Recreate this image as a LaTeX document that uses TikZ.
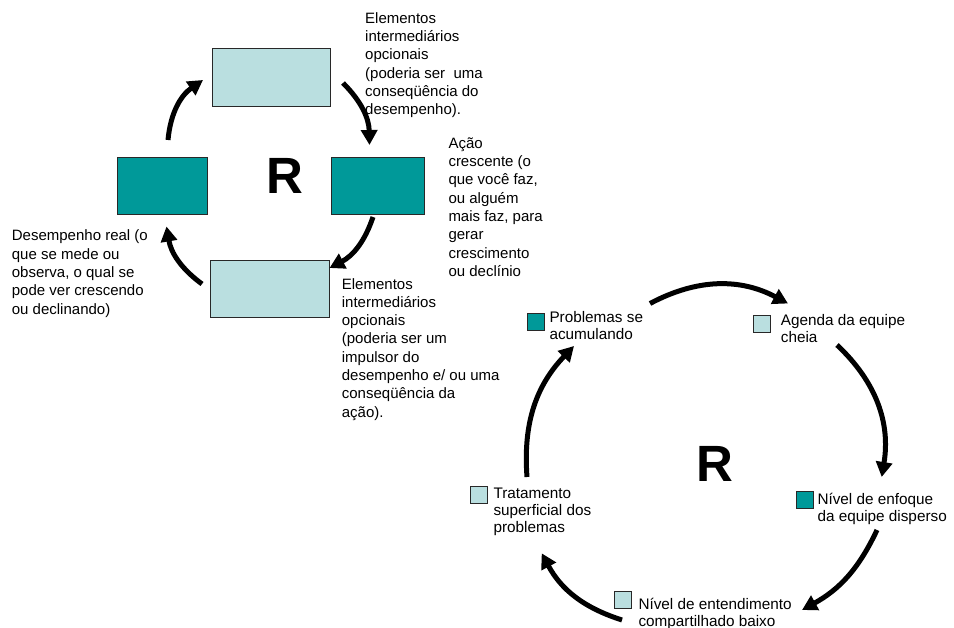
\documentclass[tikz,border=0pt]{standalone}
\usepackage{fontspec}
\setmainfont{Liberation Sans}
\usetikzlibrary{arrows.meta}
\definecolor{tealfill}{RGB}{0,153,153}
\definecolor{palefill}{RGB}{186,223,224}
\definecolor{edge}{RGB}{40,40,40}

\begin{document}
\begin{tikzpicture}[x=1pt,y=-1pt,
  box/.style={draw=edge, line width=0.8pt, inner sep=0pt},
  dark/.style={fill=tealfill},
  pale/.style={fill=palefill},
  sq/.style={box, minimum width=17pt, minimum height=17pt},
  % labels are anchored at the baseline of their last line
  lbl/.style={anchor=base west, align=left, inner sep=0pt,
              font=\fontsize{15}{18.3}\selectfont},
  lblb/.style={anchor=base west, align=left, inner sep=0pt,
               font=\fontsize{15.3}{17}\selectfont},
  bigR/.style={anchor=base, inner sep=0pt,
               font=\fontsize{51}{51}\selectfont\bfseries},
  loop/.style={line width=5pt, -{Triangle[length=15pt,width=16pt]}}
]
\useasboundingbox (0,0) rectangle (954,628);

% ---------- generic reinforcing loop ----------
\node[box, pale, minimum width=118pt, minimum height=58pt] (top) at (271,77) {};
\node[box, dark, minimum width=90pt, minimum height=57pt] (left) at (162.4,185.7) {};
\node[box, dark, minimum width=92.6pt, minimum height=56.6pt] (right) at (378,186) {};
\node[box, pale, minimum width=118.6pt, minimum height=57.3pt] (bottom) at (270,288.7) {};
\node[bigR] (R1) at (284.5,193.3) {R};

\coordinate (a1s) at (168,140);   \coordinate (a1e) at (203,80);
\coordinate (a2s) at (343,83);    \coordinate (a2e) at (369.5,145);
\coordinate (a3s) at (373,217);   \coordinate (a3e) at (329.5,268);
\coordinate (a4s) at (202,284);   \coordinate (a4e) at (166.5,226.5);
\draw[loop] (a1s) to[bend left=25] (a1e);
\draw[loop] (a2s) to[bend left=22] (a2e);
\draw[loop] (a3s) to[bend left=22] (a3e);
\draw[loop] (a4s) to[bend left=22] (a4e);

\node[lbl] (ttop) at (365,114.8) {Elementos\\intermediários\\opcionais\\(poderia ser \ uma\\conseqüência do\\desempenho).};
\node[lbl] (tright) at (448.3,276.4) {Ação\\crescente (o\\que você faz,\\ou alguém\\mais faz, para\\gerar\\crescimento\\ou declínio};
\node[lbl] (tleft) at (11.7,314.2) {Desempenho real (o\\que se mede ou\\observa, o qual se\\pode ver crescendo\\ou declinando)};
\node[lbl] (tbottom) at (341.7,417.1) {Elementos\\intermediários\\opcionais\\(poderia ser um\\impulsor do\\desempenho e/ ou uma\\conseqüência da\\ação).};

% ---------- team workload loop ----------
\node[sq, dark] (s1) at (535.5,322) {};
\node[sq, pale] (s2) at (762,323.5) {};
\node[sq, dark] (s3) at (805,500) {};
\node[sq, pale] (s4) at (622.5,599.5) {};
\node[sq, pale] (s5) at (479,495) {};
\node[bigR] (R2) at (715,482) {R};

\node[lblb] (t1) at (549.3,340) {Problemas se\\acumulando};
\node[lblb] (t2) at (780.7,342.5) {Agenda da equipe\\cheia};
\node[lblb] (t3) at (817.3,521) {Nível de enfoque\\da equipe disperso};
\node[lblb] (t4) at (638.3,626.5) {Nível de entendimento\\compartilhado baixo};
\node[lblb] (t5) at (493.3,532.5) {Tratamento\\superficial dos\\problemas};

\coordinate (b1s) at (650,303.5);  \coordinate (b1e) at (788,303.5);
\coordinate (b2s) at (837,345);    \coordinate (b2e) at (881.7,477);
\coordinate (b3s) at (877,530);    \coordinate (b3e) at (802,610);
\coordinate (b4s) at (622,620);    \coordinate (b4e) at (541.7,553.3);
\coordinate (b5s) at (527,477);    \coordinate (b5e) at (574,346);
\draw[loop] (b1s) to[bend left=28] (b1e);
\draw[loop] (b2s) to[bend left=28] (b2e);
\draw[loop] (b3s) to[bend left=18] (b3e);
\draw[loop] (b4s) to[bend left=22] (b4e);
\draw[loop] (b5s) to[bend left=24] (b5e);
\end{tikzpicture}
\end{document}
